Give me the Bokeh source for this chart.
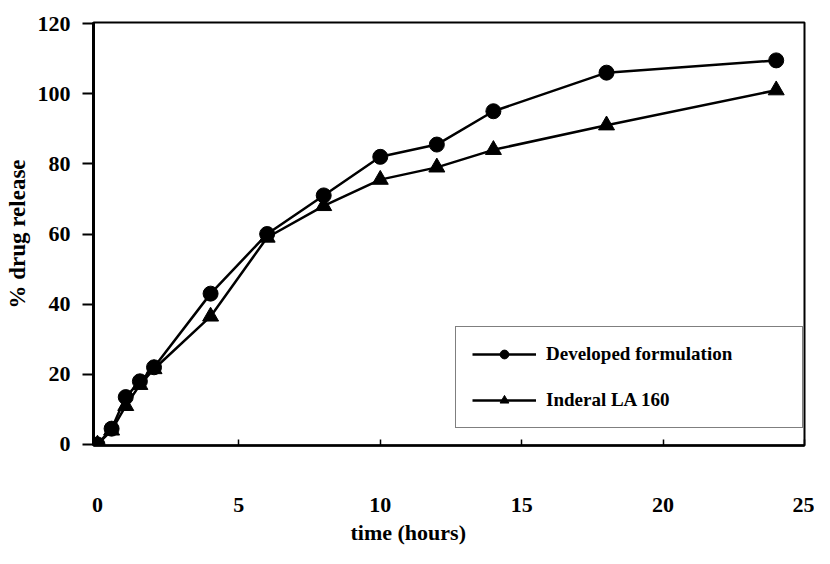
from bokeh.plotting import figure
from bokeh.models import FixedTicker, Title, Range1d
from bokeh.embed import file_html
from bokeh.resources import INLINE

time_h = [0, 0.5, 1, 1.5, 2, 4, 6, 8, 10, 12, 14, 18, 24]
developed = [0, 4.5, 13.5, 18, 22, 43, 60, 71, 82, 85.5, 95, 106, 109.5]
inderal = [0, 4, 11, 17, 21.5, 36.5, 59, 68, 75.5, 79, 84, 91, 101]
x_ticks = [0, 5, 10, 15, 20, 25]
y_ticks = [0, 20, 40, 60, 80, 100, 120]

FONT = "Liberation Serif"

p = figure(width=814, height=548, output_backend="svg", toolbar_location=None,
           x_range=Range1d(-0.14, 25), y_range=Range1d(-0.3, 120.3),
           min_border_left=93, min_border_right=10, min_border_top=22,
           min_border_bottom=103)
p.grid.visible = False
p.background_fill_color = "white"
p.border_fill_color = "white"
p.outline_line_color = "black"
p.outline_line_width = 2
p.outline_line_alpha = 1

p.line(time_h, developed, line_color="black", line_width=2.5, legend_label="Developed formulation")
p.scatter(time_h, developed, marker="circle", size=15, color="black", legend_label="Developed formulation")
p.line(time_h, inderal, line_color="black", line_width=2.5, legend_label="Inderal LA 160")
p.scatter(time_h, inderal, marker="triangle", size=16, color="black", legend_label="Inderal LA 160")

# x axis
xa = p.xaxis[0]
xa.ticker = FixedTicker(ticks=x_ticks)
xa.axis_line_color = "black"
xa.axis_line_width = 2.5
xa.major_tick_in = 6
xa.major_tick_out = 0
xa.major_tick_line_width = 1.5
xa.minor_tick_line_color = None
xa.major_label_standoff = 52
xa.major_label_text_font = FONT
xa.major_label_text_font_style = "bold"
xa.major_label_text_font_size = "22px"
xa.major_label_text_color = "black"

# y axis
ya = p.yaxis[0]
ya.ticker = FixedTicker(ticks=y_ticks)
ya.axis_line_color = "black"
ya.axis_line_width = 3
ya.major_tick_in = 0
ya.major_tick_out = 11
ya.major_tick_line_width = 2
ya.minor_tick_line_color = None
ya.major_label_standoff = 12
ya.major_label_text_font = FONT
ya.major_label_text_font_style = "bold"
ya.major_label_text_font_size = "22px"
ya.major_label_text_color = "black"
ya.axis_label = "% drug release"
ya.axis_label_text_font = FONT
ya.axis_label_text_font_style = "bold"
ya.axis_label_text_font_size = "23px"
ya.axis_label_text_color = "black"
ya.axis_label_standoff = 5

p.add_layout(Title(text="time (hours)", align="left", offset=257, standoff=6,
                   text_font=FONT, text_font_style="bold", text_font_size="22px",
                   text_color="black"), "below")

lg = p.legend[0]
lg.location = (362, 17)
lg.border_line_color = "black"
lg.border_line_width = 1.5
lg.background_fill_alpha = 1
lg.padding = 16
lg.spacing = 24
lg.glyph_height = 22
lg.glyph_width = 64
lg.label_height = 22
lg.label_width = 240
lg.label_standoff = 10
lg.label_text_font = FONT
lg.label_text_font_style = "bold"
lg.label_text_font_size = "19px"
lg.label_text_color = "black"

open("out.html", "w").write(file_html(p, INLINE))
